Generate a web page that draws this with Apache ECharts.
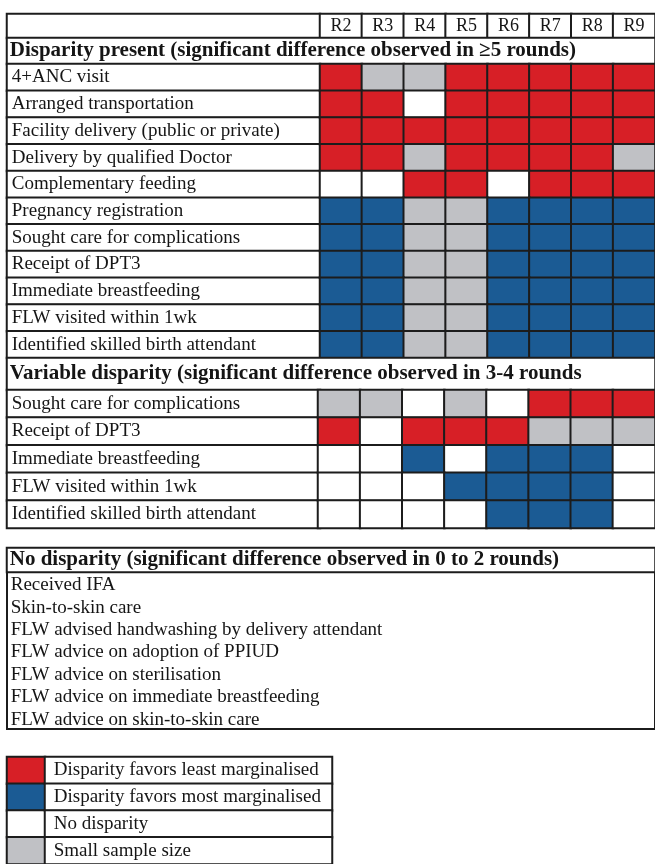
<!DOCTYPE html>
<html><head><meta charset="utf-8">
<script src="https://cdn.jsdelivr.net/npm/echarts@6/dist/echarts.min.js"></script>
<style>html,body{margin:0;padding:0;background:#fff}#c{width:655px;height:864px}</style>
</head><body><div id="c"></div>
<script>
// ---- data ----
const rounds = ['R2','R3','R4','R5','R6','R7','R8','R9'];
// codes: 0 = no disparity, 1 = favors least marginalised, 2 = favors most marginalised, 3 = small sample size
const sec1Title = 'Disparity present (significant difference observed in \u22655 rounds)';
const sec1Rows = ['4+ANC visit','Arranged transportation','Facility delivery (public or private)','Delivery by qualified Doctor','Complementary feeding','Pregnancy registration','Sought care for complications','Receipt of DPT3','Immediate breastfeeding','FLW visited within 1wk','Identified skilled birth attendant'];
const sec1Values = [
  [1,3,3,1,1,1,1,1],
  [1,1,0,1,1,1,1,1],
  [1,1,1,1,1,1,1,1],
  [1,1,3,1,1,1,1,3],
  [0,0,1,1,0,1,1,1],
  [2,2,3,3,2,2,2,2],
  [2,2,3,3,2,2,2,2],
  [2,2,3,3,2,2,2,2],
  [2,2,3,3,2,2,2,2],
  [2,2,3,3,2,2,2,2],
  [2,2,3,3,2,2,2,2]
];
const sec2Title = 'Variable disparity (significant difference observed in 3-4 rounds';
const sec2Rows = ['Sought care for complications','Receipt of DPT3','Immediate breastfeeding','FLW visited within 1wk','Identified skilled birth attendant'];
const sec2Values = [
  [3,3,0,3,0,1,1,1],
  [1,0,1,1,1,3,3,3],
  [0,0,2,0,2,2,2,0],
  [0,0,0,2,2,2,2,0],
  [0,0,0,0,2,2,2,0]
];
const sec3Title = 'No disparity (significant difference observed in 0 to 2 rounds)';
const sec3Rows = ['Received IFA','Skin-to-skin care','FLW advised handwashing by delivery attendant','FLW advice on adoption of PPIUD','FLW advice on sterilisation','FLW advice on immediate breastfeeding','FLW advice on skin-to-skin care'];
const legendCodes = [1,2,0,3];
const legendLabels = ['Disparity favors least marginalised','Disparity favors most marginalised','No disparity','Small sample size'];

// ---- styling ----
const FONT = "'Liberation Serif','Times New Roman',serif";
const INK = '#151515';
const LINE = '#1c1c1c';
const COLORS = {0:'#ffffff',1:'#d71f26',2:'#1b5b94',3:'#c0c1c5'};
const FS = 19;

const grids = [], xAxes = [], yAxes = [], series = [], mapped = [];
function block(rect, xCats, yCats, data, opt) {
  const gi = grids.length;
  grids.push(Object.assign({left: rect[0], top: rect[1], width: rect[2], height: rect[3], containLabel:false}, opt.grid || {}));
  xAxes.push({type:'category', gridIndex: gi, data: xCats, show:false});
  yAxes.push({type:'category', gridIndex: gi, data: yCats, inverse:true, show:false});
  const s = {
    type:'heatmap', xAxisIndex: gi, yAxisIndex: gi, data: data,
    itemStyle: Object.assign({borderColor: LINE, borderWidth: 2}, opt.itemStyle || {}),
    emphasis: {disabled: true},
    label: Object.assign({show: !!opt.label, color: INK, fontFamily: FONT}, opt.label || {})
  };
  if (opt.mapped !== false) mapped.push(series.length);
  series.push(s);
}
const cellData = vals => { const d=[]; vals.forEach((row,r)=>row.forEach((v,c)=>d.push([c,r,v]))); return d; };
const labelData = rows => rows.map((_,r)=>[0,r,0]);
const rowLabel = rows => ({position:'insideLeft', distance:6, fontSize:FS, formatter:p=>rows[p.data[1]]});
const titleLabel = t => ({position:'insideLeft', distance:4, fontSize:21, fontWeight:'bold', formatter:()=>t});

const L0 = 7, LW = 313, CX = 320, CW = 335;
// header row
block([L0,14,LW,24],['h'],['h'],[[0,0,0]],{});
block([CX,14,CW,24],rounds,['h'],rounds.map((_,i)=>[i,0,0]),{label:{position:'inside',fontSize:18,formatter:p=>rounds[p.data[0]]}});
// section 1
block([L0,38,648,26],['t'],['t'],[[0,0,0]],{label:titleLabel(sec1Title)});
block([L0,64,LW,294],['l'],sec1Rows,labelData(sec1Rows),{label:rowLabel(sec1Rows)});
block([CX,64,CW,294],rounds,sec1Rows,cellData(sec1Values),{});
// section 2
block([L0,358,648,32],['t'],['t'],[[0,0,0]],{label:titleLabel(sec2Title)});
block([L0,390,LW,138],['l'],sec2Rows,labelData(sec2Rows),{label:rowLabel(sec2Rows)});
block([CX-2,390,CW+2,138],rounds,sec2Rows,cellData(sec2Values),{});
// section 3
block([L0,548,648,24],['t'],['t'],[[0,0,0]],{label:titleLabel(sec3Title)});
block([L0,572,648,157],['l'],sec3Rows,labelData(sec3Rows),{mapped:false,
  grid:{show:true,borderColor:LINE,borderWidth:2,backgroundColor:'transparent'},
  itemStyle:{color:'transparent',borderWidth:0},
  label:{position:'insideLeft',distance:4,fontSize:FS,offset:[0,2],formatter:p=>sec3Rows[p.data[1]]}});
// legend
block([L0,757,38,110],['s'],legendLabels,legendCodes.map((v,r)=>[0,r,v]),{});
block([45,757,287,110],['t'],legendLabels,legendLabels.map((_,r)=>[0,r,0]),{label:{position:'insideLeft',distance:10,fontSize:FS,formatter:p=>legendLabels[p.data[1]]}});

const chart = echarts.init(document.getElementById('c'), null, {renderer:'canvas'});
chart.setOption({
  animation:false,
  backgroundColor:'#ffffff',
  grid: grids, xAxis: xAxes, yAxis: yAxes,
  visualMap: {type:'piecewise', show:false, dimension:2, seriesIndex: mapped,
    pieces:[{value:0,color:COLORS[0]},{value:1,color:COLORS[1]},{value:2,color:COLORS[2]},{value:3,color:COLORS[3]}]},
  series: series
});
</script>
</body></html>
